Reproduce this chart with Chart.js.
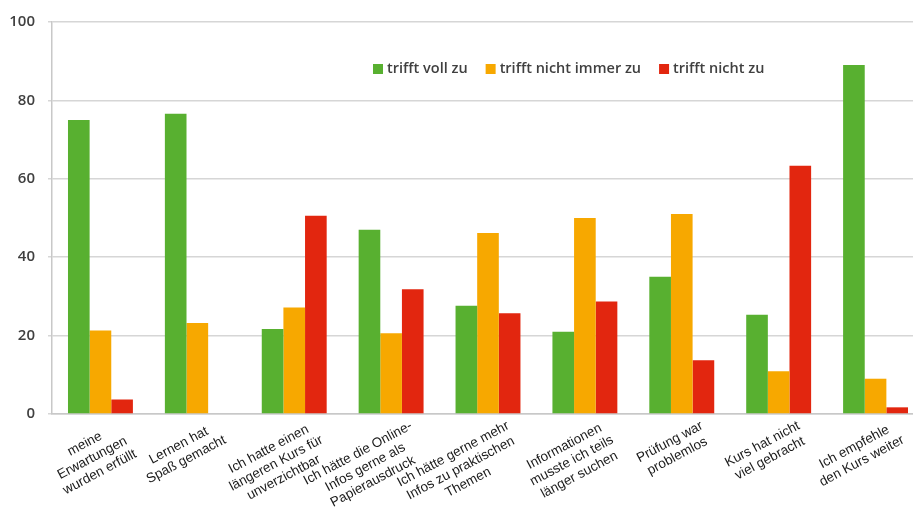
<!DOCTYPE html>
<html>
<head>
<meta charset="utf-8">
<script src="https://cdn.jsdelivr.net/npm/chart.js@4.4.1/dist/chart.umd.min.js"></script>
<style>
    html, body { margin: 0; padding: 0; background: #fff; overflow: hidden; }
    #wrap { width: 926px; height: 521px; }
</style>
</head>
<body>
<div id="wrap"><canvas id="surveyChart"></canvas></div>
<script>
    const categories = [
        ['meine', 'Erwartungen', 'wurden erfüllt'],
        ['Lernen hat', 'Spaß gemacht'],
        ['Ich hatte einen', 'längeren Kurs für', 'unverzichtbar'],
        ['Ich hätte die Online-', 'Infos gerne als', 'Papierausdruck'],
        ['Ich hätte gerne mehr', 'Infos zu praktischen', 'Themen'],
        ['Informationen', 'musste ich teils', 'länger suchen'],
        ['Prüfung war', 'problemlos'],
        ['Kurs hat nicht', 'viel gebracht'],
        ['Ich empfehle', 'den Kurs weiter']
    ];
    const seriesNames = ['trifft voll zu', 'trifft nicht immer zu', 'trifft nicht zu'];
    const fullyApplies = [75.0, 76.6, 21.7, 47.0, 27.6, 21.0, 35.0, 25.3, 89.0];
    const notAlways = [21.3, 23.2, 27.2, 20.6, 46.2, 50.0, 51.0, 10.9, 9.0];
    const doesNotApply = [3.7, 0, 50.6, 31.8, 25.7, 28.7, 13.7, 63.3, 1.7];
    const yTicks = [0, 20, 40, 60, 80, 100];

    const colors = ['#58b030', '#f7a800', '#e2260f'];

    // legend sits inside the plot area, so draw it by hand
    const insideLegend = {
        id: 'insideLegend',
        afterDraw(chart) {
            const ctx = chart.ctx;
            let x = 373;
            const y = 69;
            ctx.save();
            ctx.font = '600 14.5px "Open Sans", sans-serif';
            ctx.textBaseline = 'middle';
            ctx.textAlign = 'left';
            chart.data.datasets.forEach(ds => {
                ctx.fillStyle = ds.backgroundColor;
                ctx.fillRect(x, y - 5, 10, 10);
                ctx.fillStyle = '#404040';
                ctx.fillText(ds.label, x + 14, y);
                x += 14 + ctx.measureText(ds.label).width + 18;
            });
            ctx.restore();
        }
    };

    // rotated, centred multi-line category labels
    const slantedLabels = {
        id: 'slantedLabels',
        afterDraw(chart) {
            const ctx = chart.ctx;
            const xs = chart.scales.x;
            const angle = -28 * Math.PI / 180;
            ctx.save();
            ctx.font = '13.5px "Liberation Sans", Arial, sans-serif';
            ctx.fillStyle = '#1a1a1a';
            ctx.textAlign = 'center';
            ctx.textBaseline = 'top';
            chart.data.labels.forEach((lines, i) => {
                const px = xs.getPixelForValue(i);
                const w = Math.max(...lines.map(l => ctx.measureText(l).width));
                ctx.save();
                ctx.translate(px + 17, xs.top + 5);
                ctx.rotate(angle);
                lines.forEach((l, j) => ctx.fillText(l, -w / 2, j * 16));
                ctx.restore();
            });
            ctx.restore();
        }
    };

    const ctx = document.getElementById('surveyChart').getContext('2d');
    const surveyChart = new Chart(ctx, {
        type: 'bar',
        data: {
            labels: categories,
            datasets: [
                { label: seriesNames[0], data: fullyApplies, backgroundColor: colors[0] },
                { label: seriesNames[1], data: notAlways, backgroundColor: colors[1] },
                { label: seriesNames[2], data: doesNotApply, backgroundColor: colors[2] }
            ]
        },
        options: {
            responsive: true,
            maintainAspectRatio: false,
            animation: false,
            layout: { padding: { top: 20, right: 2, left: 0, bottom: 0 } },
            datasets: {
                bar: { categoryPercentage: 0.67, barPercentage: 1.0 }
            },
            scales: {
                x: {
                    grid: { display: false },
                    border: { color: '#c8c8c8', width: 1.5 },
                    ticks: { display: false },
                    afterFit(scale) { scale.height = 107; }
                },
                y: {
                    min: 0,
                    max: 100,
                    afterBuildTicks(scale) {
                        scale.ticks = yTicks.map(v => ({ value: v }));
                    },
                    grid: { color: '#d6d6d6', lineWidth: 1.5, tickLength: 4 },
                    border: { color: '#c8c8c8', width: 1.5 },
                    ticks: {
                        padding: 13,
                        color: '#404040',
                        font: { family: '"Open Sans", sans-serif', size: 15, weight: '600' }
                    },
                    afterFit(scale) { scale.width = 52; }
                }
            },
            plugins: {
                legend: { display: false },
                tooltip: { enabled: false }
            }
        },
        plugins: [insideLegend, slantedLabels]
    });
</script>
</body>
</html>
